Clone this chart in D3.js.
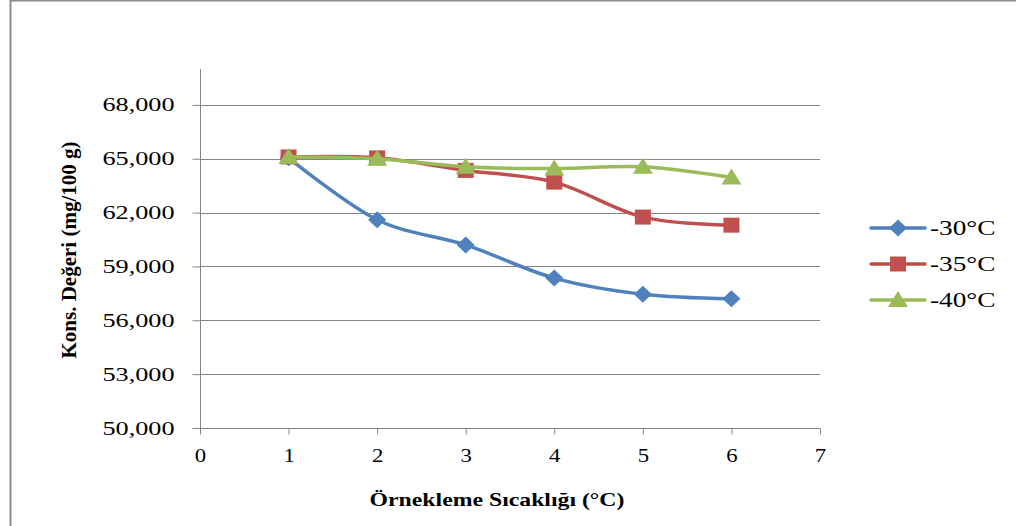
<!DOCTYPE html>
<html>
<head>
<meta charset="utf-8">
<script src="https://cdn.jsdelivr.net/npm/d3@7/dist/d3.min.js"></script>
<style>
  html, body { margin: 0; padding: 0; background: #fff; }
  svg { display: block; }
  text { font-family: "Liberation Serif", "Times New Roman", serif; fill: #000; }
</style>
</head>
<body>
<svg id="chart" width="1016" height="526"></svg>
<script>
// Sampling points along the x axis
const samplePoints = [1, 2, 3, 4, 5, 6];

// Concentration values (mg/100 g) per storage temperature
const series30 = [65050, 61600, 60200, 58350, 57450, 57200];
const series35 = [65100, 65050, 64350, 63700, 61750, 61300];
const series40 = [65100, 65000, 64550, 64450, 64550, 63950];

const seriesNames = ["-30\u00B0C", "-35\u00B0C", "-40\u00B0C"];
const seriesColors = ["#4F81BD", "#C0504D", "#9BBB59"];
const seriesMarkers = ["diamond", "square", "triangle"];

const xTicks = [0, 1, 2, 3, 4, 5, 6, 7];
const yTicks = [50000, 53000, 56000, 59000, 62000, 65000, 68000];

const xTitle = "\u00D6rnekleme S\u0131cakl\u0131\u011F\u0131 (\u00B0C)";
const yTitle = "Kons. De\u011Feri (mg/100 g)";

const svg = d3.select("#chart");

// Widen text horizontally about its anchor point (x, y)
function widen(sel, s, ax, ay) {
  sel.attr("transform", `translate(${ax},${ay}) scale(${s},1) translate(${-ax},${-ay})`);
}

// Outer chart frame
svg.append("rect")
  .attr("x", 10.5).attr("y", 0.5)
  .attr("width", 1020).attr("height", 540)
  .attr("fill", "none").attr("stroke", "#8c8c8c").attr("stroke-width", 2);

const plot = { left: 200, right: 820, top: 69, bottom: 428 };

const x = d3.scaleLinear().domain([0, 7]).range([plot.left, plot.right]);
const y = d3.scaleLinear().domain([50000, 70000]).range([plot.bottom, plot.top]);

// Horizontal gridlines
svg.append("g")
  .selectAll("line")
  .data(yTicks)
  .join("line")
  .attr("x1", plot.left).attr("x2", plot.right)
  .attr("y1", d => Math.round(y(d)) + 0.5).attr("y2", d => Math.round(y(d)) + 0.5)
  .attr("stroke", "#868686").attr("stroke-width", 1);

// Y axis
const yAxis = svg.append("g")
  .attr("transform", `translate(${plot.left + 0.5},0)`)
  .call(d3.axisLeft(y).tickValues(yTicks).tickSize(8).tickPadding(15)
    .tickFormat(d3.format(",")));
yAxis.select(".domain").attr("stroke", "#868686").attr("d", `M0,${plot.top}V${plot.bottom}`);
yAxis.selectAll(".tick line").attr("stroke", "#868686");
yAxis.selectAll(".tick text")
  .style("font-family", "'Liberation Serif', serif")
  .style("font-size", "19px").attr("fill", "#000")
  .each(function () { widen(d3.select(this), 1.38, -15, 0); });

// X axis
const xAxis = svg.append("g")
  .attr("transform", `translate(0,${Math.round(plot.bottom) + 0.5})`)
  .call(d3.axisBottom(x).tickValues(xTicks).tickSize(6).tickPadding(14)
    .tickFormat(d3.format("d")));
xAxis.select(".domain").attr("stroke", "#868686").attr("d", `M${plot.left},0H${plot.right}`);
xAxis.selectAll(".tick line").attr("stroke", "#868686");
xAxis.selectAll(".tick text")
  .style("font-family", "'Liberation Serif', serif")
  .style("font-size", "19px").attr("fill", "#000")
  .each(function () { widen(d3.select(this), 1.2, 0, 0); });

// Axis titles
const xt = svg.append("text")
  .attr("x", 497).attr("y", 506)
  .attr("text-anchor", "middle")
  .style("font-size", "19px").style("font-weight", "bold")
  .text(xTitle);
widen(xt, 1.25, 497, 506);

svg.append("text")
  .attr("transform", `translate(76,250) rotate(-90)`)
  .attr("text-anchor", "middle")
  .style("font-size", "21px").style("font-weight", "bold")
  .text(yTitle);

// Marker shapes
function drawMarker(g, type, color, cx, cy) {
  if (type === "diamond") {
    g.append("path").attr("d", "M0,-8.5L9,0L0,8.5L-9,0Z")
      .attr("transform", `translate(${cx},${cy})`).attr("fill", color);
  } else if (type === "square") {
    g.append("rect").attr("x", cx - 8).attr("y", cy - 7.5).attr("width", 16).attr("height", 15)
      .attr("fill", color);
  } else {
    g.append("path").attr("d", "M0,-9L10,7L-10,7Z")
      .attr("transform", `translate(${cx},${cy})`).attr("fill", color);
  }
}

const allSeries = [series30, series35, series40];
const line = d3.line()
  .x((d, i) => x(samplePoints[i]))
  .y(d => y(d))
  .curve(d3.curveCardinal.tension(0));

allSeries.forEach((vals, s) => {
  const g = svg.append("g");
  g.append("path")
    .attr("d", line(vals))
    .attr("fill", "none")
    .attr("stroke", seriesColors[s])
    .attr("stroke-width", 3.5)
    .attr("stroke-linejoin", "round")
    .attr("stroke-linecap", "round");
  vals.forEach((v, i) => drawMarker(g, seriesMarkers[s], seriesColors[s], x(samplePoints[i]), y(v)));
});

// Legend
const legend = svg.append("g");
seriesNames.forEach((name, s) => {
  const ly = 228 + s * 36;
  legend.append("line")
    .attr("x1", 871).attr("x2", 925).attr("y1", ly).attr("y2", ly)
    .attr("stroke", seriesColors[s]).attr("stroke-width", 3.5).attr("stroke-linecap", "round");
  drawMarker(legend, seriesMarkers[s], seriesColors[s], 898, ly);
  const t = legend.append("text")
    .attr("x", 930).attr("y", ly + 7)
    .style("font-size", "21px")
    .text(name);
  widen(t, 1.3, 930, ly + 7);
});
</script>
</body>
</html>
